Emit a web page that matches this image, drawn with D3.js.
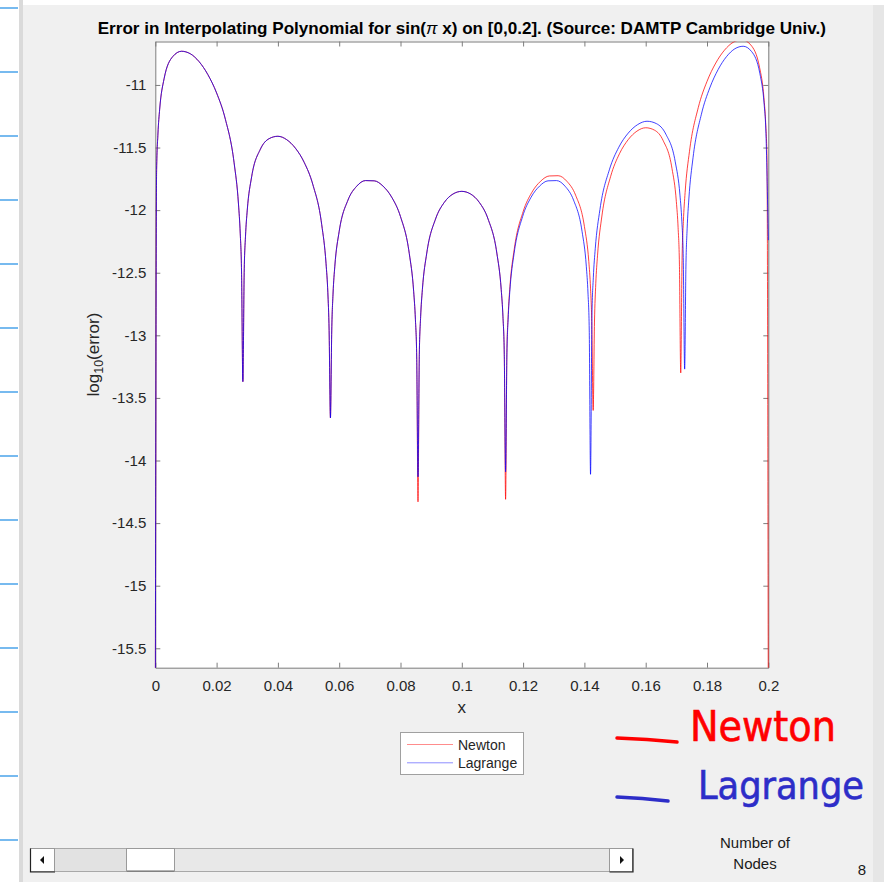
<!DOCTYPE html>
<html><head><meta charset="utf-8">
<script src="https://cdn.jsdelivr.net/npm/d3@7"></script>
<style>html,body{margin:0;padding:0;background:#f0f0f0;overflow:hidden}</style>
</head><body><svg id="c" width="884" height="882"></svg>
<script>
// ---------- data ----------
const xTickValues = [0, 0.02, 0.04, 0.06, 0.08, 0.1, 0.12, 0.14, 0.16, 0.18, 0.2];
const xTickLabels = ["0", "0.02", "0.04", "0.06", "0.08", "0.1", "0.12", "0.14", "0.16", "0.18", "0.2"];
const yTickValues = [-15.5, -15, -14.5, -14, -13.5, -13, -12.5, -12, -11.5, -11];
const yTickLabels = ["-15.5", "-15", "-14.5", "-14", "-13.5", "-13", "-12.5", "-12", "-11.5", "-11"];
const seriesNames = ["Newton", "Lagrange"];

const newtonX = [
  0, 0.00043, 0.00086, 0.00143, 0.00286, 0.00571, 0.00857, 0.01143, 0.01429, 0.01714, 0.02, 0.02286, 0.02571, 0.02714, 0.02771, 0.02814, 0.02857,
  0.029, 0.02943, 0.03, 0.03143, 0.03429, 0.03714, 0.04, 0.04286, 0.04571, 0.04857, 0.05143, 0.05429, 0.05571, 0.05629, 0.05671, 0.05714,
  0.05757, 0.058, 0.05857, 0.06, 0.06286, 0.06571, 0.06857, 0.07143, 0.07429, 0.07714, 0.08, 0.08286, 0.08429, 0.08486, 0.08529, 0.08571,
  0.08614, 0.08657, 0.08714, 0.08857, 0.09143, 0.09429, 0.09714, 0.1, 0.10286, 0.10571, 0.10857, 0.11143, 0.11286, 0.11343, 0.11386, 0.11429,
  0.11471, 0.11514, 0.11571, 0.11714, 0.12, 0.12286, 0.12571, 0.12857, 0.13143, 0.13429, 0.13714, 0.14, 0.14143, 0.142, 0.14243, 0.14286,
  0.14329, 0.14371, 0.14429, 0.14571, 0.14857, 0.15143, 0.15429, 0.15714, 0.16, 0.16286, 0.16571, 0.16857, 0.17, 0.17057, 0.171, 0.17143,
  0.17186, 0.17229, 0.17286, 0.17429, 0.17714, 0.18, 0.18286, 0.18571, 0.18857, 0.19143, 0.19429, 0.19714, 0.19857, 0.19914, 0.19957, 0.2
];
const newtonY = [
  -16, -11.675, -11.392, -11.193, -10.951, -10.773, -10.731, -10.751, -10.814, -10.917, -11.064, -11.274, -11.622, -11.951, -12.184, -12.494, -13.37,
  -12.499, -12.208, -12.000, -11.734, -11.513, -11.429, -11.410, -11.437, -11.505, -11.618, -11.798, -12.115, -12.428, -12.656, -12.962, -13.66,
  -12.958, -12.662, -12.448, -12.169, -11.920, -11.809, -11.764, -11.766, -11.808, -11.897, -12.052, -12.346, -12.648, -12.871, -13.173, -14.33,
  -13.151, -12.852, -12.634, -12.343, -12.071, -11.938, -11.871, -11.850, -11.871, -11.938, -12.071, -12.343, -12.634, -12.852, -13.151, -14.31,
  -13.134, -12.832, -12.609, -12.307, -12.013, -11.858, -11.769, -11.727, -11.725, -11.770, -11.881, -12.130, -12.409, -12.623, -12.919, -13.60,
  -12.894, -12.588, -12.360, -12.047, -11.730, -11.550, -11.437, -11.369, -11.342, -11.361, -11.445, -11.666, -11.932, -12.140, -12.431, -13.30,
  -12.402, -12.092, -11.859, -11.530, -11.182, -10.972, -10.825, -10.722, -10.659, -10.639, -10.681, -10.859, -11.101, -11.300, -11.583, -16
];

const lagrangeX = [
  0, 0.00043, 0.00086, 0.00143, 0.00286, 0.00571, 0.00857, 0.01143, 0.01429, 0.01714, 0.02, 0.02286, 0.02571, 0.02714, 0.02771, 0.02814, 0.02857,
  0.029, 0.02943, 0.03, 0.03143, 0.03429, 0.03714, 0.04, 0.04286, 0.04571, 0.04857, 0.05143, 0.05429, 0.05571, 0.05629, 0.05671, 0.05714,
  0.05757, 0.058, 0.05857, 0.06, 0.06286, 0.06571, 0.06857, 0.07143, 0.07429, 0.07714, 0.08, 0.08286, 0.08429, 0.08486, 0.08529, 0.08571,
  0.08614, 0.08657, 0.08714, 0.08857, 0.09143, 0.09429, 0.09714, 0.1, 0.10286, 0.10571, 0.10857, 0.11143, 0.11286, 0.11343, 0.11386, 0.11429,
  0.1147, 0.11512, 0.11567, 0.11706, 0.11983, 0.1226, 0.12537, 0.12814, 0.13091, 0.13369, 0.13646, 0.13923, 0.14062, 0.14117, 0.14158, 0.142,
  0.14246, 0.14292, 0.14354, 0.14507, 0.14814, 0.15121, 0.15429, 0.15736, 0.16043, 0.1635, 0.16657, 0.16964, 0.17118, 0.17179, 0.17225, 0.17271,
  0.17312, 0.17353, 0.17408, 0.17544, 0.17817, 0.1809, 0.18363, 0.18636, 0.18909, 0.19181, 0.19454, 0.19727, 0.19864, 0.19918, 0.2
];
const lagrangeY = [
  -16, -11.675, -11.392, -11.193, -10.951, -10.773, -10.731, -10.751, -10.814, -10.917, -11.064, -11.274, -11.622, -11.951, -12.184, -12.494, -13.37,
  -12.499, -12.208, -12.000, -11.734, -11.513, -11.429, -11.410, -11.437, -11.505, -11.618, -11.798, -12.115, -12.428, -12.656, -12.962, -13.66,
  -12.958, -12.662, -12.448, -12.169, -11.920, -11.809, -11.764, -11.766, -11.808, -11.897, -12.052, -12.346, -12.648, -12.871, -13.173, -14.13,
  -13.151, -12.852, -12.634, -12.343, -12.071, -11.938, -11.871, -11.850, -11.871, -11.938, -12.071, -12.343, -12.634, -12.852, -13.151, -14.09,
  -13.173, -12.871, -12.648, -12.346, -12.052, -11.897, -11.808, -11.766, -11.764, -11.809, -11.920, -12.169, -12.448, -12.662, -12.958, -14.11,
  -12.842, -12.536, -12.308, -11.995, -11.678, -11.498, -11.385, -11.317, -11.290, -11.309, -11.393, -11.614, -11.880, -12.088, -12.379, -13.27,
  -12.454, -12.144, -11.911, -11.582, -11.234, -11.024, -10.877, -10.774, -10.711, -10.691, -10.733, -10.911, -11.153, -11.352, -12.24
];

// ---------- layout ----------
const W = 884, H = 882;
const plot = {left: 155.3, right: 768.3, top: 41.5, bottom: 667.7};
const xDomain = [0, 0.2], yDomain = [-15.655, -10.653];
const colors = {Newton: "#ff0000", Lagrange: "#0000ff"};
const font = "'Liberation Sans', Arial, Helvetica, sans-serif";
const handFont = "'Liberation Sans Narrow', 'DejaVu Sans Condensed', 'Liberation Sans', sans-serif";

const svg = d3.select("#c");

// window background pieces
svg.append("rect").attr("width", W).attr("height", H).attr("fill", "#f0f0f0");
svg.append("rect").attr("x", 0).attr("y", 0).attr("width", W).attr("height", 5).attr("fill", "#ffffff");
svg.append("rect").attr("x", 0).attr("y", 0).attr("width", 19).attr("height", H).attr("fill", "#ffffff");
svg.append("rect").attr("x", 19).attr("y", 0).attr("width", 4).attr("height", H).attr("fill", "#dadada");
svg.append("rect").attr("x", 873).attr("y", 5).attr("width", 11).attr("height", H).attr("fill", "#e6e6e6");
const ruleYs = d3.range(8, H, 64);
svg.selectAll("line.rule").data(ruleYs).enter().append("line")
  .attr("x1", 0).attr("x2", 18).attr("y1", d => d).attr("y2", d => d)
  .attr("stroke", "#4aa3ea").attr("stroke-width", 1.5);

// plot area
svg.append("rect").attr("x", plot.left).attr("y", plot.top)
  .attr("width", plot.right - plot.left).attr("height", plot.bottom - plot.top).attr("fill", "#ffffff");

const x = d3.scaleLinear().domain(xDomain).range([plot.left, plot.right]);
const y = d3.scaleLinear().domain(yDomain).range([plot.bottom, plot.top]);

svg.append("clipPath").attr("id", "clip").append("rect")
  .attr("x", plot.left - 1).attr("y", plot.top)
  .attr("width", plot.right - plot.left + 2).attr("height", plot.bottom - plot.top);

// axes
function styleAxis(g) {
  g.selectAll(".domain").attr("stroke", "#7d7d7d").attr("stroke-width", 1);
  g.selectAll(".tick line").attr("stroke", "#7d7d7d").attr("stroke-width", 1);
  g.selectAll(".tick text").attr("fill", "#262626").style("font-family", font).style("font-size", "15px");
}
svg.append("g").attr("transform", `translate(0,${plot.bottom})`)
  .call(d3.axisBottom(x).tickValues(xTickValues).tickFormat((d, i) => xTickLabels[i])
    .tickSizeInner(-5).tickSizeOuter(0).tickPadding(12.5)).call(styleAxis);
svg.append("g").attr("transform", `translate(0,${plot.top})`)
  .call(d3.axisTop(x).tickValues(xTickValues).tickFormat("")
    .tickSizeInner(-5).tickSizeOuter(0)).call(styleAxis);
svg.append("g").attr("transform", `translate(${plot.left},0)`)
  .call(d3.axisLeft(y).tickValues(yTickValues).tickFormat((d, i) => yTickLabels[i])
    .tickSizeInner(-5).tickSizeOuter(0).tickPadding(9)).call(styleAxis);
svg.append("g").attr("transform", `translate(${plot.right},0)`)
  .call(d3.axisRight(y).tickValues(yTickValues).tickFormat("")
    .tickSizeInner(-5).tickSizeOuter(0)).call(styleAxis);

// series lines (drawn over the axes, as in the original)
const series = [
  {name: "Newton", xs: newtonX, ys: newtonY},
  {name: "Lagrange", xs: lagrangeX, ys: lagrangeY}
];
const line = d3.line().x(d => x(d[0])).y(d => y(d[1])).curve(d3.curveMonotoneX);
const gLines = svg.append("g").attr("clip-path", "url(#clip)");
series.forEach(s => {
  const pts = s.xs.map((v, i) => [v, s.ys[i]]);
  gLines.append("path").datum(pts).attr("d", line)
    .attr("fill", "none").attr("stroke", colors[s.name])
    .attr("stroke-width", 1).attr("stroke-opacity", 0.75);
});

// title
const title = svg.append("text").attr("x", (plot.left + plot.right) / 2).attr("y", 34)
  .attr("text-anchor", "middle").style("font-family", font).style("font-size", "16px")
  .style("font-weight", "bold").attr("fill", "#000");
title.append("tspan").text("Error in Interpolating Polynomial for sin(");
title.append("tspan").style("font-style", "italic").style("font-weight", "normal").text("π");
title.append("tspan").text(" x) on [0,0.2]. (Source: DAMTP Cambridge Univ.)");
const tw = title.node().getComputedTextLength();
if (tw > 0) title.style("font-size", (16 * 729 / tw) + "px");

// axis labels
svg.append("text").attr("x", (plot.left + plot.right) / 2).attr("y", 713)
  .attr("text-anchor", "middle").style("font-family", font).style("font-size", "17px")
  .attr("fill", "#262626").text("x");
const yl = svg.append("text").attr("transform", `translate(99,${(plot.top + plot.bottom) / 2}) rotate(-90)`)
  .attr("text-anchor", "middle").style("font-family", font).style("font-size", "17px").attr("fill", "#262626");
yl.append("tspan").text("log");
yl.append("tspan").attr("dy", 4).style("font-size", "12.5px").text("10");
yl.append("tspan").attr("dy", -4).text("(error)");

// legend
const lg = svg.append("g");
lg.append("rect").attr("x", 400.5).attr("y", 732.5).attr("width", 123).attr("height", 42)
  .attr("fill", "#ffffff").attr("stroke", "#a0a0a0");
seriesNames.forEach((n, i) => {
  const yy = 744.5 + i * 18.3;
  lg.append("line").attr("x1", 407).attr("x2", 453).attr("y1", yy).attr("y2", yy)
    .attr("stroke", colors[n]).attr("stroke-width", 1).attr("stroke-opacity", 0.45);
  lg.append("text").attr("x", 458).attr("y", yy + 5).style("font-family", font).style("font-size", "14px")
    .attr("fill", "#262626").text(n);
});

// scrollbar
const sb = svg.append("g");
sb.append("rect").attr("x", 30.5).attr("y", 848.5).attr("width", 602).attr("height", 23)
  .attr("fill", "#e8e8e8").attr("stroke", "#a8a8a8");
sb.append("rect").attr("x", 55).attr("y", 849).attr("width", 71).attr("height", 22).attr("fill", "#e2e2e2");
sb.append("rect").attr("x", 30.5).attr("y", 848.5).attr("width", 24).attr("height", 23)
  .attr("fill", "#ffffff").attr("stroke", "#9a9a9a");
sb.append("path").attr("d", "M30.5,848.5 V872 H55").attr("fill", "none").attr("stroke", "#222").attr("stroke-width", 1.2);
sb.append("path").attr("d", "M44,856 L40,860 L44,864 Z").attr("fill", "#111");
sb.append("rect").attr("x", 126.5).attr("y", 848.5).attr("width", 48).attr("height", 23)
  .attr("fill", "#ffffff").attr("stroke", "#9a9a9a");
sb.append("line").attr("x1", 127).attr("x2", 174).attr("y1", 871).attr("y2", 871).attr("stroke", "#666");
sb.append("rect").attr("x", 609.5).attr("y", 848.5).attr("width", 23).attr("height", 23)
  .attr("fill", "#ffffff").attr("stroke", "#9a9a9a");
sb.append("path").attr("d", "M609.5,872 H633 V848.5").attr("fill", "none").attr("stroke", "#222").attr("stroke-width", 1.2);
sb.append("path").attr("d", "M620,856 L624,860 L620,864 Z").attr("fill", "#111");

// side labels
svg.append("text").attr("x", 755).attr("y", 848).attr("text-anchor", "middle")
  .style("font-family", font).style("font-size", "15px").attr("fill", "#1a1a1a").text("Number of");
svg.append("text").attr("x", 755).attr("y", 869).attr("text-anchor", "middle")
  .style("font-family", font).style("font-size", "15px").attr("fill", "#1a1a1a").text("Nodes");
svg.append("text").attr("x", 862).attr("y", 875).attr("text-anchor", "middle")
  .style("font-family", font).style("font-size", "15px").attr("fill", "#1a1a1a").text("8");

// handwritten annotations (size chosen so the natural width fits)
function handText(str, x0, y0, color, width, maxSize) {
  const t = svg.append("text").attr("x", x0).attr("y", y0)
    .style("font-family", handFont).style("font-size", "40px")
    .attr("fill", color).attr("stroke", color).attr("stroke-width", 0.6).text(str);
  const w = t.node().getComputedTextLength();
  if (w > 0) t.style("font-size", Math.min(maxSize, 40 * width / w) + "px");
  return t;
}
svg.append("path").attr("d", "M617,738 Q647,739 677,742").attr("fill", "none")
  .attr("stroke", "#ff0000").attr("stroke-width", 3.5).attr("stroke-linecap", "round");
handText("Newton", 690, 741, "#ff0000", 146, 50);
svg.append("path").attr("d", "M617,797 Q642,798 668,801").attr("fill", "none")
  .attr("stroke", "#2d2dc8").attr("stroke-width", 3.5).attr("stroke-linecap", "round");
handText("Lagrange", 698, 799, "#2d2dc8", 166, 52);
</script>
</body></html>
